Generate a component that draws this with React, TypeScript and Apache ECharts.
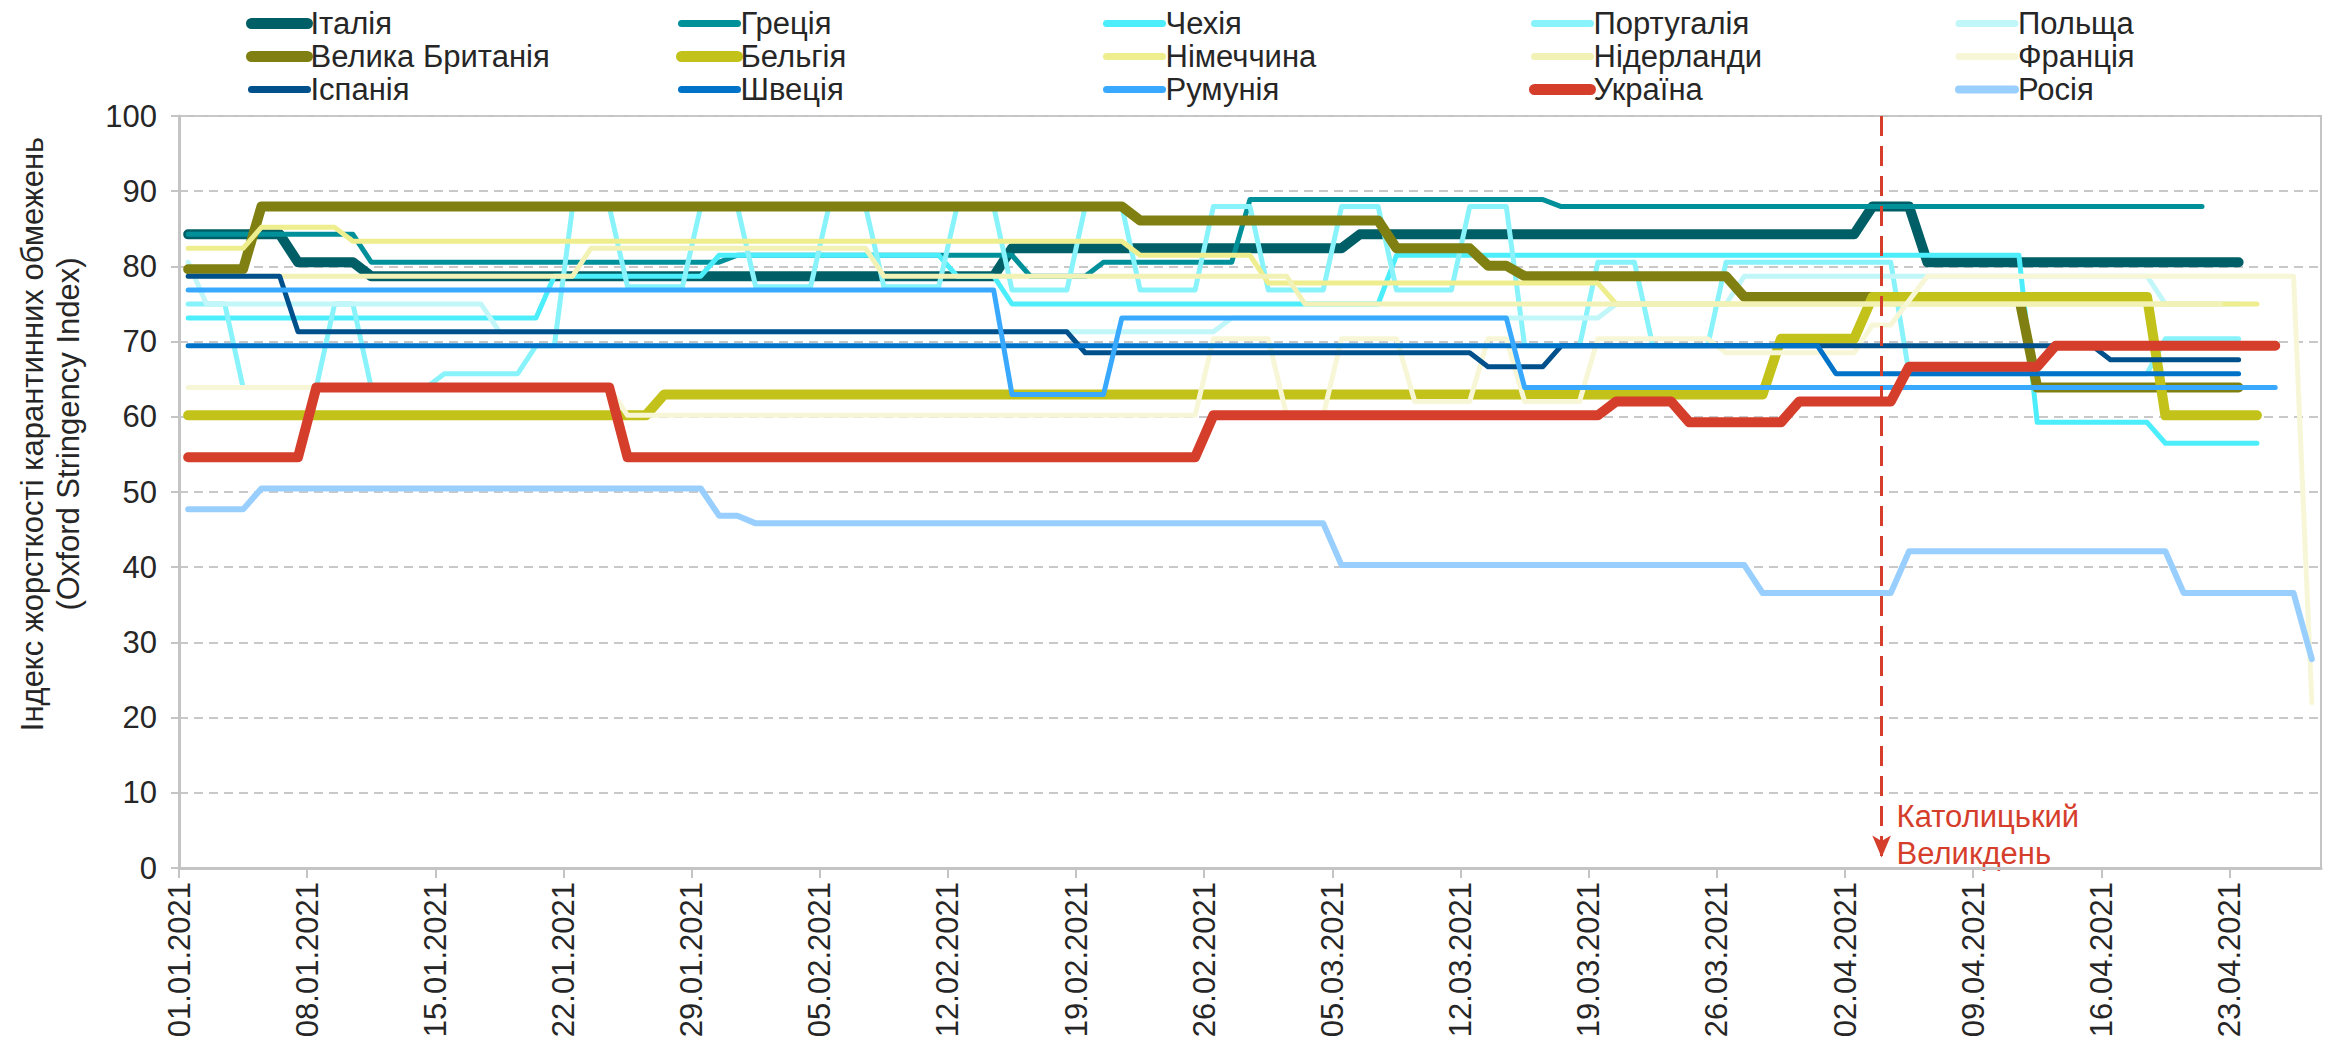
import React, { useEffect, useRef } from "react";
import * as echarts from "echarts";

// ---------- data (day index 0 = 01.01.2021) ----------
// Each series: list of [first day, value] change points + last day with data
const TICK_LABELS = [
  "01.01.2021", "08.01.2021", "15.01.2021", "22.01.2021", "29.01.2021",
  "05.02.2021", "12.02.2021", "19.02.2021", "26.02.2021", "05.03.2021",
  "12.03.2021", "19.03.2021", "26.03.2021", "02.04.2021", "09.04.2021",
  "16.04.2021", "23.04.2021",
];
const TOTAL_DAYS = 117; // 01.01 .. 27.04
const EASTER_DAY = 93; // 04.04.2021

const ITALY = [[0, 84.26], [6, 80.56], [10, 78.7], [45, 82.41], [64, 84.26], [92, 87.96], [95, 80.56]];
const ITALY_LAST = 112;
const GREECE = [[0, 84.26], [10, 80.56], [30, 81.48], [46, 78.7], [50, 80.56], [58, 88.89], [75, 87.96]];
const GREECE_LAST = 110;
const CZECH = [[0, 73.15], [20, 78.7], [29, 81.48], [42, 78.7], [45, 75.0], [66, 81.48], [101, 59.26], [108, 56.48]];
const CZECH_LAST = 113;
const PORTUGAL = [
  [0, 75.0], [3, 63.89], [8, 75.0], [10, 63.89], [14, 65.74], [19, 69.44], [21, 87.96], [24, 77.31],
  [28, 87.96], [31, 77.31], [35, 87.96], [38, 77.31], [42, 87.96], [45, 76.85], [49, 87.96], [52, 76.85],
  [56, 87.96], [59, 76.85], [63, 87.96], [66, 76.85], [70, 87.96], [73, 69.44], [77, 80.56], [80, 69.44],
  [84, 80.56], [94, 65.74], [108, 70.37],
];
const PORTUGAL_LAST = 112;
const POLAND = [[0, 80.56], [1, 75.0], [17, 71.3], [57, 73.15], [78, 75.0], [85, 78.7], [108, 75.0]];
const POLAND_LAST = 112;
const UK = [[0, 79.63], [4, 87.96], [52, 86.11], [66, 82.41], [71, 80.09], [73, 78.7], [85, 75.93], [101, 63.89]];
const UK_LAST = 112;
const BELGIUM = [[0, 60.19], [26, 62.96], [87, 70.37], [92, 75.93], [108, 60.19]];
const BELGIUM_LAST = 113;
const GERMANY = [[0, 82.41], [4, 85.19], [9, 83.33], [52, 81.48], [59, 77.78], [78, 75.0]];
const GERMANY_LAST = 113;
const NETHERLANDS = [[0, 78.7], [22, 82.41], [38, 78.7], [61, 75.0]];
const NETHERLANDS_LAST = 111;
const FRANCE = [
  [0, 63.89], [24, 60.19], [56, 70.37], [60, 60.19], [63, 70.37], [67, 62.04], [71, 70.37], [73, 62.04],
  [77, 70.37], [84, 68.52], [92, 72.22], [94, 75.46], [95, 78.7], [116, 22.0],
];
const FRANCE_LAST = 116;
const SPAIN = [[0, 78.7], [6, 71.3], [49, 68.52], [71, 66.67], [75, 69.44], [105, 67.59]];
const SPAIN_LAST = 112;
const SWEDEN = [[0, 69.44], [90, 65.74]];
const SWEDEN_LAST = 112;
const ROMANIA = [[0, 76.85], [45, 62.96], [51, 73.15], [73, 63.89]];
const ROMANIA_LAST = 114;
const UKRAINE = [[0, 54.63], [7, 63.89], [24, 54.63], [56, 60.19], [78, 62.04], [82, 59.26], [88, 62.04], [94, 66.67], [102, 69.44]];
const UKRAINE_LAST = 114;
const RUSSIA = [[0, 47.69], [4, 50.46], [29, 46.85], [31, 45.83], [63, 40.28], [86, 36.57], [94, 42.13], [109, 36.57], [116, 27.78]];
const RUSSIA_LAST = 116;

const SERIES_DATA = [
  { name: "Італія", steps: ITALY, last: ITALY_LAST },
  { name: "Греція", steps: GREECE, last: GREECE_LAST },
  { name: "Чехія", steps: CZECH, last: CZECH_LAST },
  { name: "Португалія", steps: PORTUGAL, last: PORTUGAL_LAST },
  { name: "Польща", steps: POLAND, last: POLAND_LAST },
  { name: "Велика Британія", steps: UK, last: UK_LAST },
  { name: "Бельгія", steps: BELGIUM, last: BELGIUM_LAST },
  { name: "Німеччина", steps: GERMANY, last: GERMANY_LAST },
  { name: "Нідерланди", steps: NETHERLANDS, last: NETHERLANDS_LAST },
  { name: "Франція", steps: FRANCE, last: FRANCE_LAST },
  { name: "Іспанія", steps: SPAIN, last: SPAIN_LAST },
  { name: "Швеція", steps: SWEDEN, last: SWEDEN_LAST },
  { name: "Румунія", steps: ROMANIA, last: ROMANIA_LAST },
  { name: "Україна", steps: UKRAINE, last: UKRAINE_LAST },
  { name: "Росія", steps: RUSSIA, last: RUSSIA_LAST },
];

// ---------- styles ----------
const STYLE: Record<string, { color: string; width: number }> = {
  "Італія": { color: "#005F66", width: 10 },
  "Греція": { color: "#00909A", width: 5 },
  "Чехія": { color: "#4DEEFB", width: 5 },
  "Португалія": { color: "#88F3FA", width: 5 },
  "Польща": { color: "#C2F7FA", width: 5 },
  "Велика Британія": { color: "#808012", width: 10 },
  "Бельгія": { color: "#C2C21A", width: 10 },
  "Німеччина": { color: "#EEEE8E", width: 5 },
  "Нідерланди": { color: "#F2F2B6", width: 5 },
  "Франція": { color: "#F7F7D8", width: 5 },
  "Іспанія": { color: "#00508C", width: 5 },
  "Швеція": { color: "#0073C8", width: 5 },
  "Румунія": { color: "#38A9FF", width: 5 },
  "Україна": { color: "#D63E2C", width: 10 },
  "Росія": { color: "#99CFFF", width: 6 },
};
const LEGEND_WIDTH: Record<string, number> = {
  "Італія": 11, "Велика Британія": 11, "Бельгія": 11, "Україна": 11, "Росія": 8,
};

const LEGEND_COLUMNS = [
  ["Італія", "Велика Британія", "Іспанія"],
  ["Греція", "Бельгія", "Швеція"],
  ["Чехія", "Німеччина", "Румунія"],
  ["Португалія", "Нідерланди", "Україна"],
  ["Польща", "Франція", "Росія"],
];
const LEGEND_LEFT = [241, 671, 1098, 1524, 1950];

const FONT = "'Liberation Sans', Arial, sans-serif";
const TEXT_COLOR = "#262626";

function expand(steps: number[][], last: number): number[][] {
  const out: number[][] = [];
  let k = 0;
  for (let d = 0; d <= last; d++) {
    while (k + 1 < steps.length && steps[k + 1][0] <= d) k++;
    out.push([d + 0.5, steps[k][1]]);
  }
  return out;
}

export default function App() {
  const ref = useRef<HTMLDivElement>(null);

  useEffect(() => {
    if (!ref.current) return;
    const chart = echarts.init(ref.current, null, { renderer: "svg" });

    const series: any[] = SERIES_DATA.map((s) => ({
      name: s.name,
      type: "line",
      data: expand(s.steps, s.last),
      showSymbol: false,
      symbol: "none",
      silent: true,
      lineStyle: { color: STYLE[s.name].color, width: STYLE[s.name].width, cap: "round", join: "round" },
      itemStyle: { color: STYLE[s.name].color },
      emphasis: { disabled: true },
    }));

    series[series.length - 1].markLine = {
      silent: true,
      symbol: ["none", "arrow"],
      symbolSize: [14, 22],
      label: { show: false },
      lineStyle: { color: "#D63E2C", width: 3, type: [20, 10] },
      data: [[{ coord: [EASTER_DAY, 100] }, { coord: [EASTER_DAY, 1.4] }]],
    };

    chart.setOption({
      animation: false,
      backgroundColor: "#ffffff",
      textStyle: { fontFamily: FONT },
      grid: {
        left: 179,
        right: 17,
        top: 116,
        bottom: 182,
        show: true,
        borderColor: "#c4c4c4",
        borderWidth: 2,
        backgroundColor: "transparent",
      },
      legend: LEGEND_COLUMNS.map((names, i) => ({
        data: names.map((n) => ({
          name: n,
          itemStyle: { opacity: 0 },
          lineStyle: { width: LEGEND_WIDTH[n] || 7, color: STYLE[n].color, cap: "round" },
        })),
        orient: "vertical",
        left: LEGEND_LEFT[i],
        top: 2,
        itemWidth: 56,
        itemHeight: 14,
        itemGap: 0,
        selectedMode: false,
        itemStyle: { opacity: 0 },
        textStyle: { fontSize: 31, color: TEXT_COLOR, fontFamily: FONT, lineHeight: 33, padding: [0, 0, 0, -2] },
      })),
      xAxis: {
        type: "value",
        min: 0,
        max: TOTAL_DAYS,
        interval: 7,
        axisLine: { show: true, lineStyle: { color: "#c4c4c4", width: 3 } },
        axisTick: { show: true, length: 10, lineStyle: { color: "#c4c4c4", width: 2 } },
        splitLine: { show: false },
        axisLabel: {
          rotate: 90,
          margin: 14,
          fontSize: 31,
          color: TEXT_COLOR,
          fontFamily: FONT,
          showMaxLabel: false,
          formatter: (v: number) => (v % 7 === 0 && TICK_LABELS[v / 7]) ? TICK_LABELS[v / 7] : "",
        },
      },
      yAxis: {
        type: "value",
        min: 0,
        max: 100,
        interval: 10,
        axisLine: { show: true, lineStyle: { color: "#c4c4c4", width: 3 } },
        axisTick: { show: true, length: 8, lineStyle: { color: "#c4c4c4", width: 2 } },
        splitLine: { show: true, lineStyle: { color: "#c8c8c8", width: 2, type: [9, 6] } },
        axisLabel: { fontSize: 31, color: TEXT_COLOR, fontFamily: FONT, margin: 22 },
      },
      series,
    });

    const base = chart.convertToPixel({ xAxisIndex: 0, yAxisIndex: 0 }, [EASTER_DAY, 0]) as number[];
    const mid = chart.convertToPixel({ xAxisIndex: 0, yAxisIndex: 0 }, [0, 50]) as number[];
    chart.setOption({
      graphic: [
        {
          type: "text",
          x: 50,
          y: mid[1] - 58,
          rotation: Math.PI / 2,
          style: {
            text: "Індекс жорсткості карантинних обмежень\n(Oxford Stringency Index)",
            fontSize: 31,
            fontFamily: FONT,
            fill: TEXT_COLOR,
            align: "center",
            verticalAlign: "middle",
            lineHeight: 36,
          },
        },
        {
          type: "text",
          x: base[0] + 15,
          y: base[1] - 33,
          style: {
            text: "Католицький\nВеликдень",
            fontSize: 31,
            fontFamily: FONT,
            fill: "#D63E2C",
            align: "left",
            verticalAlign: "middle",
            lineHeight: 37,
          },
        },
      ],
    });

    return () => chart.dispose();
  }, []);

  return (
    <div
      ref={ref}
      style={{ position: "fixed", left: 0, top: 0, width: 2338, height: 1050, background: "#fff" }}
    />
  );
}
